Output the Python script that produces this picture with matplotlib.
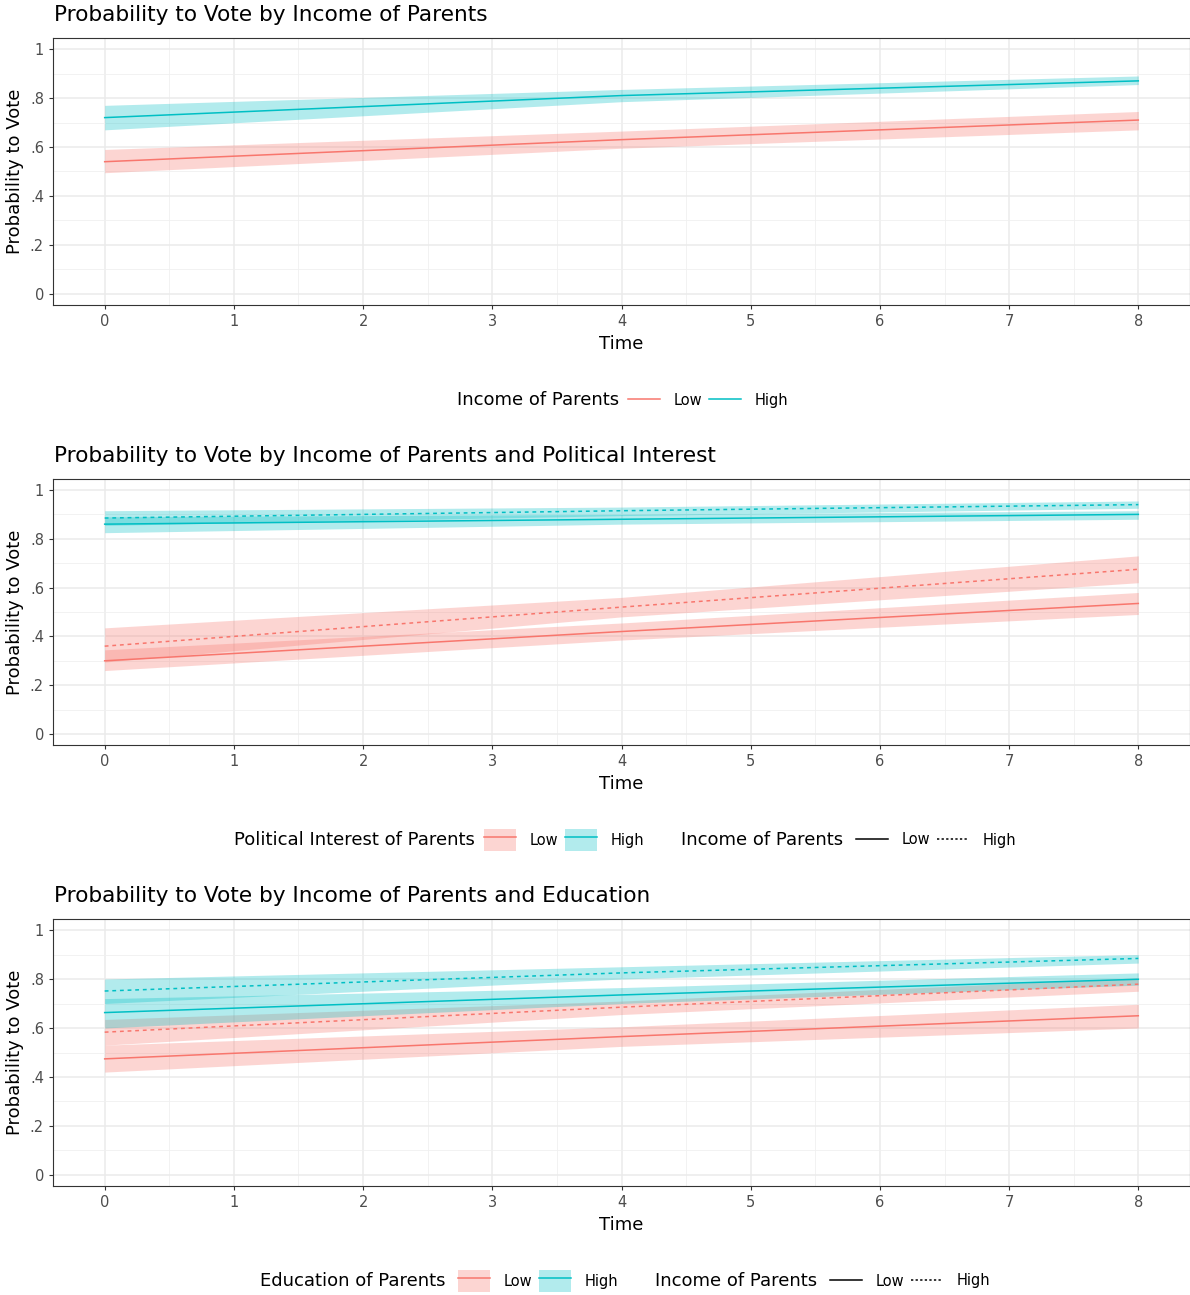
import matplotlib.pyplot as plt
from matplotlib.lines import Line2D
from matplotlib.patches import Patch

# colores ggplot por defecto
RED = '#F8766D'
TEAL = '#00BFC4'

time = [0, 4, 8]

# Panel 1: ingreso de los padres
p1_low = [0.54, 0.63, 0.71]
p1_low_lo = [0.495, 0.595, 0.67]
p1_low_hi = [0.59, 0.665, 0.745]
p1_high = [0.72, 0.81, 0.87]
p1_high_lo = [0.67, 0.785, 0.855]
p1_high_hi = [0.77, 0.835, 0.89]

# Panel 2: ingreso x interes politico
p2_lowpi_lowinc = [0.30, 0.42, 0.535]
p2_lowpi_lowinc_lo = [0.26, 0.385, 0.49]
p2_lowpi_lowinc_hi = [0.345, 0.455, 0.58]
p2_lowpi_highinc = [0.36, 0.52, 0.675]
p2_lowpi_highinc_lo = [0.295, 0.48, 0.62]
p2_lowpi_highinc_hi = [0.435, 0.56, 0.73]
p2_highpi_lowinc = [0.86, 0.88, 0.90]
p2_highpi_lowinc_lo = [0.825, 0.86, 0.88]
p2_highpi_lowinc_hi = [0.89, 0.90, 0.915]
p2_highpi_highinc = [0.885, 0.915, 0.94]
p2_highpi_highinc_lo = [0.855, 0.895, 0.925]
p2_highpi_highinc_hi = [0.915, 0.93, 0.955]

# Panel 3: ingreso x educacion
p3_lowed_lowinc = [0.474, 0.565, 0.65]
p3_lowed_lowinc_lo = [0.42, 0.525, 0.60]
p3_lowed_lowinc_hi = [0.53, 0.605, 0.697]
p3_lowed_highinc = [0.583, 0.685, 0.779]
p3_lowed_highinc_lo = [0.53, 0.655, 0.75]
p3_lowed_highinc_hi = [0.635, 0.71, 0.805]
p3_highed_lowinc = [0.663, 0.735, 0.799]
p3_highed_lowinc_lo = [0.60, 0.70, 0.775]
p3_highed_lowinc_hi = [0.72, 0.765, 0.825]
p3_highed_highinc = [0.751, 0.825, 0.884]
p3_highed_highinc_lo = [0.70, 0.80, 0.865]
p3_highed_highinc_hi = [0.80, 0.85, 0.90]

x_ticks = [0, 1, 2, 3, 4, 5, 6, 7, 8]
y_ticks = [0, 0.2, 0.4, 0.6, 0.8, 1.0]
y_labels = ['0', '.2', '.4', '.6', '.8', '1']

titles = ['Probability to Vote by Income of Parents',
          'Probability to Vote by Income of Parents and Political Interest',
          'Probability to Vote by Income of Parents and Education']

W, H = 1190, 1295
plt.rcParams['font.family'] = ['DejaVu Sans']
fig = plt.figure(figsize=(W / 100, H / 100), dpi=100)

DASH = (0, (2.5, 2.5))
LW = 1.1
ALPHA = 0.3


def px(x, y):
    return x / W, 1 - y / H


def panel(top, bottom, title):
    ax = fig.add_axes([53 / W, 1 - bottom / H, (W - 53) / W, (bottom - top) / H])
    ax.set_xticks(x_ticks)
    ax.set_xticks([i + 0.5 for i in range(0, 8)], minor=True)
    ax.set_yticks(y_ticks)
    ax.set_yticklabels(y_labels)
    ax.set_yticks([0.1, 0.3, 0.5, 0.7, 0.9], minor=True)
    ax.set_xlim(-0.4, 8.4)
    ax.set_ylim(-0.045, 1.045)
    ax.grid(which='major', color='#EBEBEB', lw=1.1)
    ax.grid(which='minor', color='#F0F0F0', lw=0.6)
    ax.set_axisbelow(True)
    ax.tick_params(which='major', length=3, color='#333333', labelcolor='#4D4D4D', labelsize=10.5)
    ax.tick_params(which='minor', length=0)
    for s in ax.spines.values():
        s.set_color('#333333')
        s.set_linewidth(0.8)
    ax.set_xlabel('Time', fontsize=13, labelpad=4)
    ax.set_ylabel('Probability to Vote', fontsize=13, labelpad=4)
    fig.text(54 / W, 1 - (top - 23) / H, title, fontsize=15.6, va='center', ha='left')
    return ax


def serie(ax, y, lo, hi, color, ls='-'):
    ax.fill_between(time, lo, hi, color=color, alpha=ALPHA, lw=0)
    ax.plot(time, y, color=color, lw=LW, ls=ls)


def leyenda(x, y, handles, fill=False):
    kw = dict(handleheight=2.0) if fill else {}
    fig.legend(handles, ['Low', 'High'], loc='center left', bbox_to_anchor=px(x, y),
               ncol=2, frameon=False, fontsize=10.5, handlelength=2.2,
               columnspacing=0.5, handletextpad=0.9, borderpad=0, borderaxespad=0, **kw)


def fill_key(color):
    return (Patch(facecolor=color, alpha=ALPHA, lw=0), Line2D([], [], color=color, lw=LW))


line_keys = [Line2D([], [], color=RED, lw=LW), Line2D([], [], color=TEAL, lw=LW)]
lt_keys = [Line2D([], [], color='black', lw=LW), Line2D([], [], color='black', lw=LW, ls=(0, (1.5, 1.5)))]

# ---- Panel 1
ax1 = panel(38, 305, titles[0])
serie(ax1, p1_low, p1_low_lo, p1_low_hi, RED)
serie(ax1, p1_high, p1_high_lo, p1_high_hi, TEAL)
fig.text(457 / W, 1 - 400 / H, 'Income of Parents', fontsize=13, va='center', ha='left')
leyenda(628, 400, line_keys)

# ---- Panel 2
ax2 = panel(479, 745, titles[1])
serie(ax2, p2_lowpi_lowinc, p2_lowpi_lowinc_lo, p2_lowpi_lowinc_hi, RED)
serie(ax2, p2_lowpi_highinc, p2_lowpi_highinc_lo, p2_lowpi_highinc_hi, RED, DASH)
serie(ax2, p2_highpi_lowinc, p2_highpi_lowinc_lo, p2_highpi_lowinc_hi, TEAL)
serie(ax2, p2_highpi_highinc, p2_highpi_highinc_lo, p2_highpi_highinc_hi, TEAL, DASH)

fig.text(234 / W, 1 - 840 / H, 'Political Interest of Parents', fontsize=13, va='center', ha='left')
leyenda(484, 840, [fill_key(RED), fill_key(TEAL)], fill=True)
fig.text(681 / W, 1 - 840 / H, 'Income of Parents', fontsize=13, va='center', ha='left')
leyenda(856, 840, lt_keys)

# ---- Panel 3
ax3 = panel(919, 1186, titles[2])
serie(ax3, p3_lowed_lowinc, p3_lowed_lowinc_lo, p3_lowed_lowinc_hi, RED)
serie(ax3, p3_lowed_highinc, p3_lowed_highinc_lo, p3_lowed_highinc_hi, RED, DASH)
serie(ax3, p3_highed_lowinc, p3_highed_lowinc_lo, p3_highed_lowinc_hi, TEAL)
serie(ax3, p3_highed_highinc, p3_highed_highinc_lo, p3_highed_highinc_hi, TEAL, DASH)

fig.text(260 / W, 1 - 1281 / H, 'Education of Parents', fontsize=13, va='center', ha='left')
leyenda(458, 1281, [fill_key(RED), fill_key(TEAL)], fill=True)
fig.text(655 / W, 1 - 1281 / H, 'Income of Parents', fontsize=13, va='center', ha='left')
leyenda(830, 1281, lt_keys)

plt.savefig('out.png', dpi=100)
